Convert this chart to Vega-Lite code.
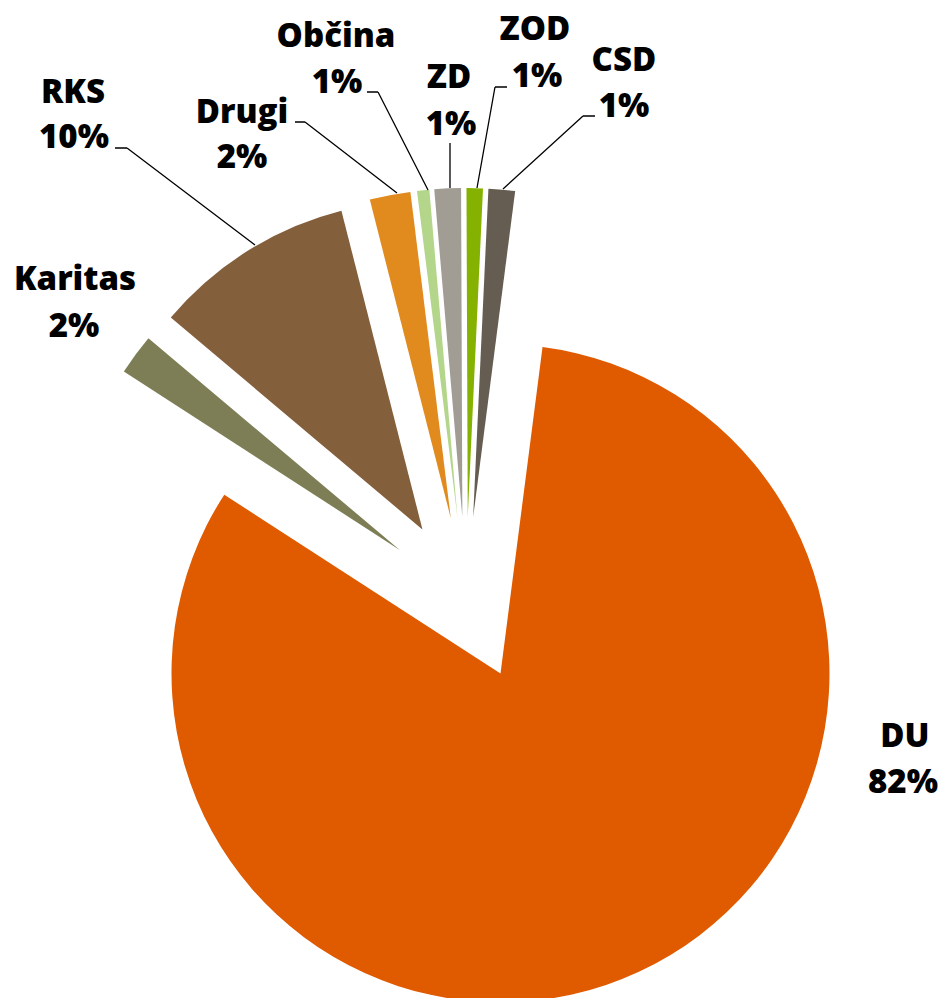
{
  "$schema": "https://vega.github.io/schema/vega-lite/v6.json",
  "autosize": {"type": "none"},
  "width": 932,
  "height": 798,
  "padding": {"left": 0, "top": 200, "right": 18, "bottom": 0},
  "background": "white",
  "config": {
    "view": {"stroke": null},
    "text": {"font": "Open Sans", "fontWeight": 800, "fontSize": 33, "align": "center", "baseline": "alphabetic", "color": "#000000"}
  },
  "data": {
    "values": [
      {"name": "DU", "share": 0.821, "order": 1},
      {"name": "Karitas", "share": 0.020, "order": 2},
      {"name": "RKS", "share": 0.099, "order": 3},
      {"name": "Drugi", "share": 0.020, "order": 4},
      {"name": "Občina", "share": 0.006, "order": 5},
      {"name": "ZD", "share": 0.013, "order": 6},
      {"name": "ZOD", "share": 0.008, "order": 7},
      {"name": "CSD", "share": 0.013, "order": 8}
    ]
  },
  "transform": [
    {"stack": "share", "groupby": [], "as": ["v0", "v1"], "sort": [{"field": "order", "order": "ascending"}]}
  ],
  "layer": [
    {
      "transform": [{"filter": "datum.name === 'DU'"}],
      "layer": [
        {"mark": {"type": "arc", "outerRadius": 329, "innerRadius": 0, "xOffset": 34.5, "yOffset": 74.39},
         "encoding": {"theta": {"field": "v0", "type": "quantitative", "scale": {"domain": [0, 1], "range": [0.12811, 6.4113]}}, "theta2": {"field": "v1"},
           "color": {"field": "name", "type": "nominal", "legend": null, "scale": {"domain": ["DU", "Karitas", "RKS", "Drugi", "Občina", "ZD", "ZOD", "CSD"], "range": ["#E05A00", "#7E7E56", "#835F3C", "#E18B1F", "#B4D68A", "#A19D95", "#85B200", "#655D52"]}}}},
        {"mark": {"type": "text", "radius": 411.1, "thetaOffset": 1.6226, "xOffset": 34.5, "yOffset": 74.39},
         "encoding": {"theta": {"field": "v0", "type": "quantitative"}, "text": {"field": "name", "type": "nominal"}}},
        {"mark": {"type": "text", "radius": 419.9, "thetaOffset": 1.7315, "xOffset": 34.5, "yOffset": 74.39},
         "encoding": {"theta": {"field": "v0", "type": "quantitative"}, "text": {"field": "share", "type": "quantitative", "format": ".0%"}}}
      ]
    },
    {
      "transform": [{"filter": "datum.name === 'Karitas'"}],
      "layer": [
        {"mark": {"type": "arc", "outerRadius": 329, "innerRadius": 0, "xOffset": -65.92, "yOffset": -48.77},
         "encoding": {"theta": {"field": "v0", "type": "quantitative"}, "theta2": {"field": "v1"}, "color": {"field": "name", "type": "nominal", "legend": null}}},
        {"mark": {"type": "text", "radius": 416.4, "thetaOffset": 0.1009, "xOffset": -65.92, "yOffset": -48.77},
         "encoding": {"theta": {"field": "v0", "type": "quantitative"}, "text": {"field": "name", "type": "nominal"}}},
        {"mark": {"type": "text", "radius": 389.6, "thetaOffset": 0.0049, "xOffset": -65.92, "yOffset": -48.77},
         "encoding": {"theta": {"field": "v0", "type": "quantitative"}, "text": {"field": "share", "type": "quantitative", "format": ".0%"}}}
      ]
    },
    {
      "transform": [{"filter": "datum.name === 'RKS'"}],
      "layer": [
        {"mark": {"type": "arc", "outerRadius": 329, "innerRadius": 0, "xOffset": -43.55, "yOffset": -69.48},
         "encoding": {"theta": {"field": "v0", "type": "quantitative"}, "theta2": {"field": "v1"}, "color": {"field": "name", "type": "nominal", "legend": null}}},
        {"mark": {"type": "arc", "filled": false, "color": "#000000", "strokeWidth": 1.3, "innerRadius": 50, "outerRadius": 210.6, "padAngle": 3, "thetaOffset": -0.3623, "theta2Offset": -0.3623, "xOffset": -171.15, "yOffset": -323.8},
         "encoding": {"theta": {"field": "v0", "type": "quantitative"}, "theta2": {"field": "v1"}}},
        {"mark": {"type": "arc", "filled": false, "color": "#000000", "strokeWidth": 1.3, "innerRadius": 50, "outerRadius": 62, "padAngle": 3, "thetaOffset": -1.0109, "theta2Offset": -1.0109, "xOffset": -289, "yOffset": -451},
         "encoding": {"theta": {"field": "v0", "type": "quantitative"}, "theta2": {"field": "v1"}}},
        {"mark": {"type": "text", "radius": 551.4, "thetaOffset": 0.1845, "xOffset": -43.55, "yOffset": -69.48},
         "encoding": {"theta": {"field": "v0", "type": "quantitative"}, "text": {"field": "name", "type": "nominal"}}},
        {"mark": {"type": "text", "radius": 516.7, "thetaOffset": 0.1307, "xOffset": -43.55, "yOffset": -69.48},
         "encoding": {"theta": {"field": "v0", "type": "quantitative"}, "text": {"field": "share", "type": "quantitative", "format": ".0%"}}}
      ]
    },
    {
      "transform": [{"filter": "datum.name === 'Drugi'"}],
      "layer": [
        {"mark": {"type": "arc", "outerRadius": 329, "innerRadius": 0, "xOffset": -15.17, "yOffset": -80.58},
         "encoding": {"theta": {"field": "v0", "type": "quantitative"}, "theta2": {"field": "v1"}, "color": {"field": "name", "type": "nominal", "legend": null}}},
        {"mark": {"type": "arc", "filled": false, "color": "#000000", "strokeWidth": 1.3, "innerRadius": 50, "outerRadius": 166.2, "padAngle": 3, "thetaOffset": -0.7275, "theta2Offset": -0.7275, "xOffset": -29.41, "yOffset": -375.46},
         "encoding": {"theta": {"field": "v0", "type": "quantitative"}, "theta2": {"field": "v1"}}},
        {"mark": {"type": "arc", "filled": false, "color": "#000000", "strokeWidth": 1.3, "innerRadius": 50, "outerRadius": 60, "padAngle": 3, "thetaOffset": -1.3847, "theta2Offset": -1.3847, "xOffset": -111, "yOffset": -477},
         "encoding": {"theta": {"field": "v0", "type": "quantitative"}, "theta2": {"field": "v1"}}},
        {"mark": {"type": "text", "radius": 447.2, "thetaOffset": -0.237, "xOffset": -15.17, "yOffset": -80.58},
         "encoding": {"theta": {"field": "v0", "type": "quantitative"}, "text": {"field": "name", "type": "nominal"}}},
        {"mark": {"type": "text", "radius": 407.9, "thetaOffset": -0.2885, "xOffset": -15.17, "yOffset": -80.58},
         "encoding": {"theta": {"field": "v0", "type": "quantitative"}, "text": {"field": "share", "type": "quantitative", "format": ".0%"}}}
      ]
    },
    {
      "transform": [{"filter": "datum.name === 'Občina'"}],
      "layer": [
        {"mark": {"type": "arc", "outerRadius": 329, "innerRadius": 0, "xOffset": -8.54, "yOffset": -81.56},
         "encoding": {"theta": {"field": "v0", "type": "quantitative"}, "theta2": {"field": "v1"}, "color": {"field": "name", "type": "nominal", "legend": null}}},
        {"mark": {"type": "arc", "filled": false, "color": "#000000", "strokeWidth": 1.3, "innerRadius": 50, "outerRadius": 160, "padAngle": 3, "thetaOffset": -0.3674, "theta2Offset": -0.3674, "xOffset": -15.27, "yOffset": -364.46},
         "encoding": {"theta": {"field": "v0", "type": "quantitative"}, "theta2": {"field": "v1"}}},
        {"mark": {"type": "arc", "filled": false, "color": "#000000", "strokeWidth": 1.3, "innerRadius": 50, "outerRadius": 61, "padAngle": 3, "thetaOffset": -1.4664, "theta2Offset": -1.4664, "xOffset": -38, "yOffset": -507},
         "encoding": {"theta": {"field": "v0", "type": "quantitative"}, "theta2": {"field": "v1"}}},
        {"mark": {"type": "text", "radius": 485.9, "thetaOffset": -0.1295, "xOffset": -8.54, "yOffset": -81.56},
         "encoding": {"theta": {"field": "v0", "type": "quantitative"}, "text": {"field": "name", "type": "nominal"}}},
        {"mark": {"type": "text", "radius": 441.2, "thetaOffset": -0.1532, "xOffset": -8.54, "yOffset": -81.56},
         "encoding": {"theta": {"field": "v0", "type": "quantitative"}, "text": {"field": "share", "type": "quantitative", "format": ".0%"}}}
      ]
    },
    {
      "transform": [{"filter": "datum.name === 'ZD'"}],
      "layer": [
        {"mark": {"type": "arc", "outerRadius": 329, "innerRadius": 0, "xOffset": -3.66, "yOffset": -81.92},
         "encoding": {"theta": {"field": "v0", "type": "quantitative"}, "theta2": {"field": "v1"}, "color": {"field": "name", "type": "nominal", "legend": null}}},
        {"mark": {"type": "arc", "filled": false, "color": "#000000", "strokeWidth": 1.3, "innerRadius": 50, "outerRadius": 95, "padAngle": 3, "thetaOffset": 0.0447, "theta2Offset": 0.0447, "xOffset": -16, "yOffset": -361},
         "encoding": {"theta": {"field": "v0", "type": "quantitative"}, "theta2": {"field": "v1"}}},
        {"mark": {"type": "text", "radius": 429.3, "thetaOffset": 0.0545, "xOffset": -3.66, "yOffset": -81.92},
         "encoding": {"theta": {"field": "v0", "type": "quantitative"}, "text": {"field": "name", "type": "nominal"}}},
        {"mark": {"type": "text", "radius": 382.2, "thetaOffset": 0.0559, "xOffset": -3.66, "yOffset": -81.92},
         "encoding": {"theta": {"field": "v0", "type": "quantitative"}, "text": {"field": "share", "type": "quantitative", "format": ".0%"}}}
      ]
    },
    {
      "transform": [{"filter": "datum.name === 'ZOD'"}],
      "layer": [
        {"mark": {"type": "arc", "outerRadius": 329, "innerRadius": 0, "xOffset": 1.75, "yOffset": -81.98},
         "encoding": {"theta": {"field": "v0", "type": "quantitative"}, "theta2": {"field": "v1"}, "color": {"field": "name", "type": "nominal", "legend": null}}},
        {"mark": {"type": "arc", "filled": false, "color": "#000000", "strokeWidth": 1.3, "innerRadius": 50, "outerRadius": 152.6, "padAngle": 3, "thetaOffset": 0.155, "theta2Offset": 0.155, "xOffset": 2.23, "yOffset": -361.77},
         "encoding": {"theta": {"field": "v0", "type": "quantitative"}, "theta2": {"field": "v1"}}},
        {"mark": {"type": "arc", "filled": false, "color": "#000000", "strokeWidth": 1.3, "innerRadius": 50, "outerRadius": 62, "padAngle": 3, "thetaOffset": 1.5495, "theta2Offset": 1.5495, "xOffset": -21, "yOffset": -512},
         "encoding": {"theta": {"field": "v0", "type": "quantitative"}, "theta2": {"field": "v1"}}},
        {"mark": {"type": "text", "radius": 481.7, "thetaOffset": 0.1438, "xOffset": 1.75, "yOffset": -81.98},
         "encoding": {"theta": {"field": "v0", "type": "quantitative"}, "text": {"field": "name", "type": "nominal"}}},
        {"mark": {"type": "text", "radius": 435.6, "thetaOffset": 0.1635, "xOffset": 1.75, "yOffset": -81.98},
         "encoding": {"theta": {"field": "v0", "type": "quantitative"}, "text": {"field": "share", "type": "quantitative", "format": ".0%"}}}
      ]
    },
    {
      "transform": [{"filter": "datum.name === 'CSD'"}],
      "layer": [
        {"mark": {"type": "arc", "outerRadius": 329, "innerRadius": 0, "xOffset": 7.15, "yOffset": -81.69},
         "encoding": {"theta": {"field": "v0", "type": "quantitative"}, "theta2": {"field": "v1"}, "color": {"field": "name", "type": "nominal", "legend": null}}},
        {"mark": {"type": "arc", "filled": false, "color": "#000000", "strokeWidth": 1.3, "innerRadius": 50, "outerRadius": 158.3, "padAngle": 3, "thetaOffset": 0.7439, "theta2Offset": 0.7439, "xOffset": 0.06, "yOffset": -376.3},
         "encoding": {"theta": {"field": "v0", "type": "quantitative"}, "theta2": {"field": "v1"}}},
        {"mark": {"type": "arc", "filled": false, "color": "#000000", "strokeWidth": 1.3, "innerRadius": 50, "outerRadius": 62, "padAngle": 3, "thetaOffset": 1.4835, "theta2Offset": 1.4835, "xOffset": 67, "yOffset": -483},
         "encoding": {"theta": {"field": "v0", "type": "quantitative"}, "theta2": {"field": "v1"}}},
        {"mark": {"type": "text", "radius": 471.1, "thetaOffset": 0.2794, "xOffset": 7.15, "yOffset": -81.69},
         "encoding": {"theta": {"field": "v0", "type": "quantitative"}, "text": {"field": "name", "type": "nominal"}}},
        {"mark": {"type": "text", "radius": 427.8, "thetaOffset": 0.314, "xOffset": 7.15, "yOffset": -81.69},
         "encoding": {"theta": {"field": "v0", "type": "quantitative"}, "text": {"field": "share", "type": "quantitative", "format": ".0%"}}}
      ]
    }
  ]
}
